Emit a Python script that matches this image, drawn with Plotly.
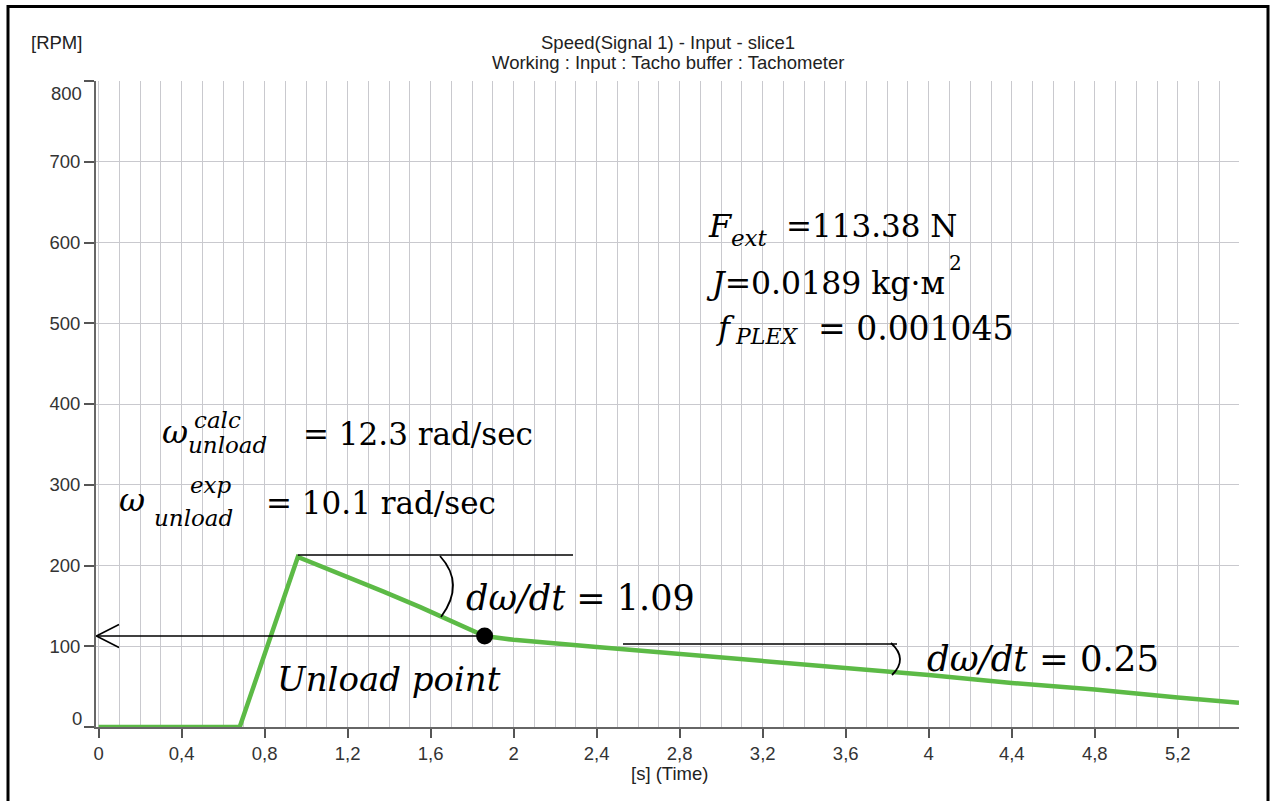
import plotly.graph_objects as go

# ---------------- data ----------------
time_s = [0, 0.68, 0.96, 1.2, 1.37, 1.55, 1.86, 1.95, 2.0, 2.4, 2.8, 3.2, 3.6, 4.0, 4.4, 4.8, 5.2, 5.495]
speed_rpm = [0, 0, 210.5, 186, 168, 148.5, 112.7, 109.5, 108, 99, 90.5, 81.5, 73, 64.5, 54.5, 46.5, 36.5, 30]
peak_idx = 2
unload_idx = 6

x_tickvals = [0, 0.4, 0.8, 1.2, 1.6, 2.0, 2.4, 2.8, 3.2, 3.6, 4.0, 4.4, 4.8, 5.2]
x_ticktext = ["0", "0,4", "0,8", "1,2", "1,6", "2", "2,4", "2,8", "3,2", "3,6", "4", "4,4", "4,8", "5,2"]
y_tickvals = [0, 100, 200, 300, 400, 500, 600, 700, 800]
y_ticktext = [str(v) for v in y_tickvals]

title_lines = ["Speed(Signal 1) - Input - slice1", "Working : Input : Tacho buffer : Tachometer"]
y_unit = "[RPM]"
x_title = "[s] (Time)"

# ---------------- layout geometry ----------------
W, H = 1270, 801
ML, MR, MT, MB = 96, 31, 81, 74
PW, PH = W - ML - MR, H - MT - MB
XR = [-0.0125, 5.495]
YR = [0, 800]

def px_x(px):  # pixel -> paper x
    return (px - ML) / PW

def px_y(py):  # pixel -> paper y
    return (H - MB - py) / PH

def dx(px):  # pixel -> data x
    return XR[0] + (px - ML) / PW * (XR[1] - XR[0])

def dy(py):  # pixel -> data y
    return YR[0] + (H - MB - py) / PH * (YR[1] - YR[0])

GREEN = "#5cba46"
SANS = "Liberation Sans"
SERIF = "DejaVu Serif"
SANS_SIZE = 18.5

fig = go.Figure()

fig.add_trace(go.Scatter(x=time_s, y=speed_rpm, mode="lines",
                         line=dict(color=GREEN, width=4.5), hoverinfo="skip"))

# arrow from unload point to the axis
ut, uv = time_s[unload_idx], speed_rpm[unload_idx]
fig.add_trace(go.Scatter(x=[ut, XR[0]], y=[uv, uv], mode="lines",
                         line=dict(color="black", width=1.5), hoverinfo="skip"))
head_dx = 23 * (XR[1] - XR[0]) / PW
head_dy = 11.5 * (YR[1] - YR[0]) / PH
fig.add_trace(go.Scatter(x=[XR[0] + head_dx, XR[0] + 0.002, XR[0] + head_dx],
                         y=[uv + head_dy, uv, uv - head_dy], mode="lines",
                         line=dict(color="black", width=1.5), hoverinfo="skip"))
fig.add_trace(go.Scatter(x=[ut], y=[uv], mode="markers",
                         marker=dict(color="black", size=17), hoverinfo="skip"))

shapes = []
# outer frame
shapes.append(dict(type="rect", xref="paper", yref="paper",
                   x0=px_x(8), x1=px_x(1268), y0=px_y(815), y1=px_y(6.5),
                   line=dict(color="black", width=3), layer="above"))
# horizontal reference lines
pt, pv = time_s[peak_idx], speed_rpm[peak_idx]
shapes.append(dict(type="line", xref="x", yref="y", x0=pt, x1=dx(573), y0=pv + 2.5, y1=pv + 2.5,
                   line=dict(color="black", width=1.6)))
shapes.append(dict(type="line", xref="x", yref="y", x0=dx(623), x1=dx(897), y0=dy(644), y1=dy(644),
                   line=dict(color="black", width=1.6)))

def arc(p0, c, p2):
    return "M %f,%f Q %f,%f %f,%f" % (dx(p0[0]), dy(p0[1]), dx(c[0]), dy(c[1]), dx(p2[0]), dy(p2[1]))

shapes.append(dict(type="path", xref="x", yref="y", path=arc((440, 556), (465.5, 584), (441, 617)),
                   line=dict(color="black", width=1.8)))
shapes.append(dict(type="path", xref="x", yref="y", path=arc((891, 643), (908.5, 659), (892, 675)),
                   line=dict(color="black", width=1.8)))

annotations = []

def add_text(text, xpx, ypx, size, italic=False, family=SERIF, xanchor="left", color="black"):
    annotations.append(dict(text=text, xref="paper", yref="paper", x=px_x(xpx), y=px_y(ypx),
                            xanchor=xanchor, yanchor="middle", showarrow=False,
                            borderpad=0, borderwidth=0,
                            font=dict(family=family, size=size, color=color,
                                      style="italic" if italic else "normal")))

# titles and axis labels
add_text(title_lines[0], ML + PW / 2, 43, SANS_SIZE, family=SANS, xanchor="center", color="#222")
add_text(title_lines[1], ML + PW / 2, 62, SANS_SIZE, family=SANS, xanchor="center", color="#222")
add_text(y_unit, 56, 43, SANS_SIZE, family=SANS, xanchor="center", color="#222")
add_text(x_title, 670, 773, SANS_SIZE, family=SANS, xanchor="center", color="#222")

# end labels of the y axis sit inside the axis span, as in the original software
y_labels_axis = [""] + y_ticktext[1:-1] + [""]
add_text(y_ticktext[0], 82, 718, SANS_SIZE, family=SANS, xanchor="right", color="#333")
add_text(y_ticktext[-1], 82, 93, SANS_SIZE, family=SANS, xanchor="right", color="#333")

# parameter block
add_text("F", 708, 226, 32, italic=True)
add_text("ext", 731, 238, 23, italic=True)
add_text("=113.38 N", 786, 226, 31)
add_text("<i>J</i>=0.0189 kg·м", 706, 283, 31.5)
add_text("2", 949, 263, 20)
add_text("f", 716, 328, 32, italic=True)
add_text("PLEX", 735, 336, 22, italic=True)
add_text("= 0.001045", 818, 328, 33)

# omega block
add_text("ω", 162, 432, 32, italic=True)
add_text("calc", 194, 420, 23, italic=True)
add_text("unload", 188, 445, 23, italic=True)
add_text("= 12.3 rad/sec", 303, 434, 31)
add_text("ω", 119, 500, 32, italic=True)
add_text("exp", 190, 485, 23, italic=True)
add_text("unload", 154, 518, 23, italic=True)
add_text("= 10.1 rad/sec", 266, 503, 31)

# slopes and unload point
add_text("<i>dω/dt</i> = 1.09", 466, 598, 35)
add_text("<i>dω/dt</i> = 0.25", 927, 658, 35.5)
add_text("Unload point", 277, 679, 34, italic=True)

GRID = "#c9c9ce"
fig.update_layout(
    width=W, height=H, autosize=False,
    margin=dict(l=ML, r=MR, t=MT, b=MB, pad=0),
    paper_bgcolor="white", plot_bgcolor="white",
    showlegend=False,
    shapes=shapes, annotations=annotations,
    xaxis=dict(range=XR, tickvals=x_tickvals, ticktext=x_ticktext,
               ticks="outside", ticklen=9, tickwidth=1.5, tickcolor="#555",
               showline=True, linecolor="#666", linewidth=2,
               showgrid=True, gridcolor=GRID, gridwidth=1.2, zeroline=False,
               minor=dict(dtick=0.1, tick0=0, showgrid=True, gridcolor=GRID, gridwidth=1.2, ticks=""),
               tickfont=dict(family=SANS, size=SANS_SIZE, color="#333")),
    yaxis=dict(range=YR, tickvals=y_tickvals, ticktext=y_labels_axis,
               ticks="outside", ticklen=10, tickwidth=1.5, tickcolor="#555",
               showline=True, linecolor="#666", linewidth=2,
               showgrid=False, zeroline=False,
               minor=dict(tickvals=y_tickvals[1:-1], showgrid=True, gridcolor=GRID, gridwidth=1.2, ticks=""),
               tickfont=dict(family=SANS, size=SANS_SIZE, color="#333")),
)

fig.write_html("out.html")
